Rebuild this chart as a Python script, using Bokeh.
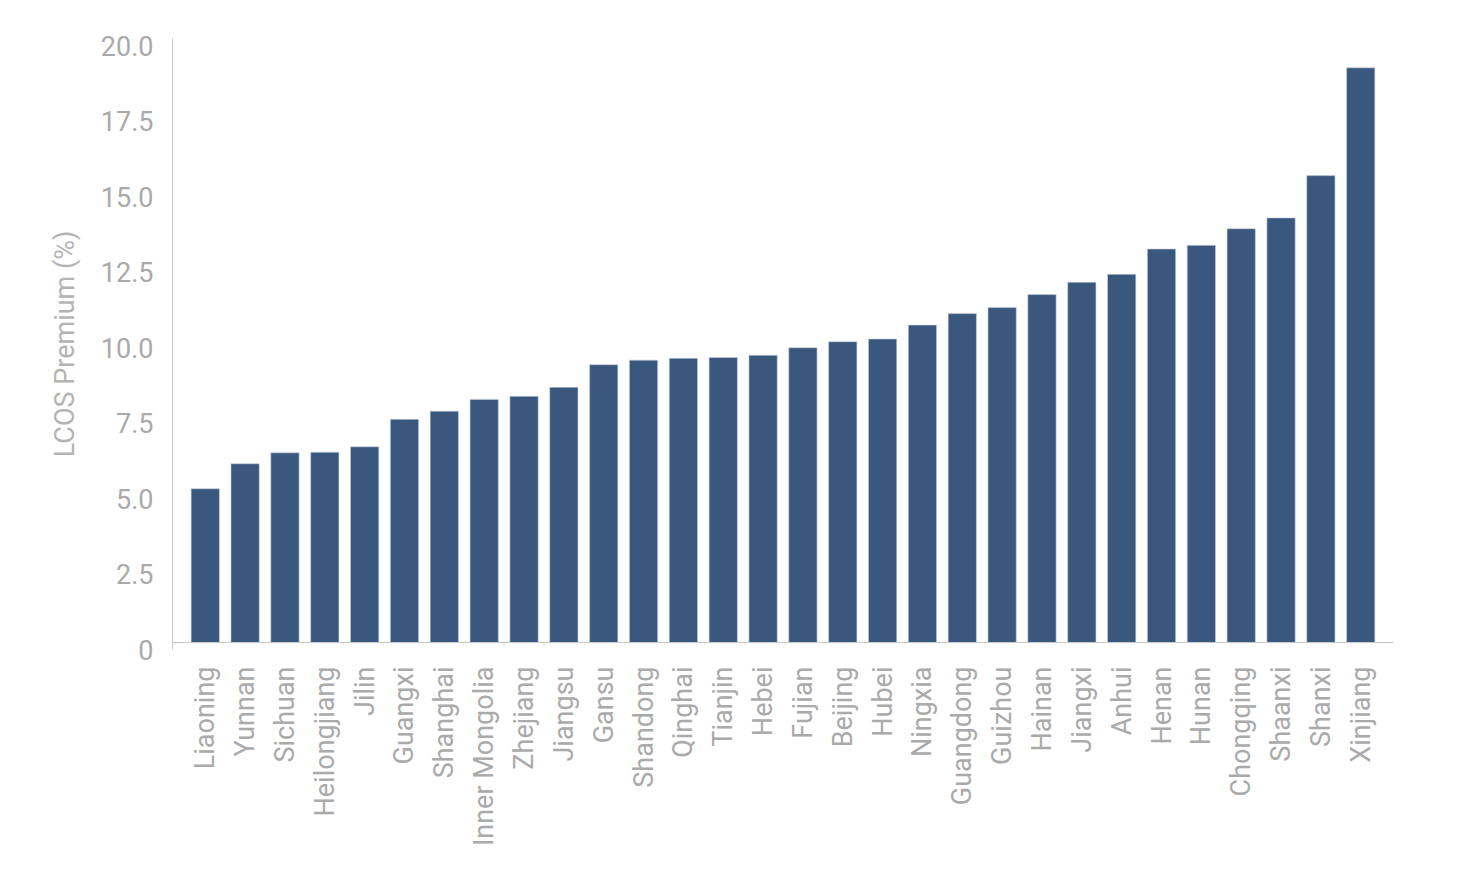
from bokeh.plotting import figure
from bokeh.models import (FactorRange, Range1d, FixedTicker, ColumnDataSource, LinearAxis,
                          Span, NumeralTickFormatter)
from bokeh.embed import file_html
from bokeh.resources import INLINE
import math

provinces = ["Liaoning", "Yunnan", "Sichuan", "Heilongjiang", "Jilin", "Guangxi", "Shanghai",
             "Inner Mongolia", "Zhejiang", "Jiangsu", "Gansu", "Shandong", "Qinghai", "Tianjin",
             "Hebei", "Fujian", "Beijing", "Hubei", "Ningxia", "Guangdong", "Guizhou", "Hainan",
             "Jiangxi", "Anhui", "Henan", "Hunan", "Chongqing", "Shaanxi", "Shanxi", "Xinjiang"]
premium = [5.09, 5.92, 6.28, 6.30, 6.48, 7.39, 7.66, 8.05, 8.15, 8.45, 9.20, 9.35, 9.41, 9.44,
           9.51, 9.76, 9.96, 10.05, 10.51, 10.89, 11.09, 11.52, 11.93, 12.19, 13.03, 13.15,
           13.70, 14.06, 15.46, 19.03]
y_ticks = [0, 2.5, 5.0, 7.5, 10.0, 12.5, 15.0, 17.5, 20.0]

src = ColumnDataSource(dict(x=provinces, y=premium))

# the reference draws its value labels ~7px below their gridline; a small shifted label range reproduces that
shift = 0.232
p = figure(width=1452, height=860, output_backend="svg", toolbar_location=None,
           x_range=FactorRange(factors=provinces, range_padding=0.3225, range_padding_units="absolute"),
           y_range=Range1d(-shift, 20), y_axis_location=None)
p.extra_y_ranges = {"labels": Range1d(0, 20 + shift)}
p.min_border_left = 172
p.min_border_right = 59
p.min_border_top = 38
p.min_border_bottom = 211
p.outline_line_color = None
p.grid.visible = False

p.vbar(x="x", top="y", bottom=0, width=0.71, source=src, fill_color="#3a587e",
       line_color="#c9d2dd", line_width=0.6)

grey = "#aaaaaa"
font = "Roboto"

p.add_layout(Span(location=0, dimension="width", line_color="#c8c8c8", line_width=1))

yax = LinearAxis(y_range_name="labels")
yax.ticker = FixedTicker(ticks=y_ticks)
yax.formatter = NumeralTickFormatter(format="0.0")
yax.major_label_overrides = {0: "0"}
yax.axis_line_color = "#c8c8c8"
yax.major_tick_line_color = None
yax.minor_tick_line_color = None
yax.major_label_text_font = font
yax.major_label_text_font_size = "27px"
yax.major_label_text_color = grey
yax.major_label_standoff = 13
yax.axis_label = "LCOS Premium (%)"
yax.axis_label_text_font = font
yax.axis_label_text_font_size = "27px"
yax.axis_label_text_font_style = "normal"
yax.axis_label_text_color = "#b4b4b4"
yax.axis_label_standoff = 17
p.add_layout(yax, "left")

xax = p.xaxis[0]
xax.axis_line_color = None
xax.major_tick_line_color = None
xax.minor_tick_line_color = None
xax.major_label_orientation = math.pi / 2
xax.major_label_text_font = font
xax.major_label_text_font_size = "27px"
xax.major_label_text_color = grey
xax.major_label_standoff = 11

open("out.html", "w").write(file_html(p, INLINE))
